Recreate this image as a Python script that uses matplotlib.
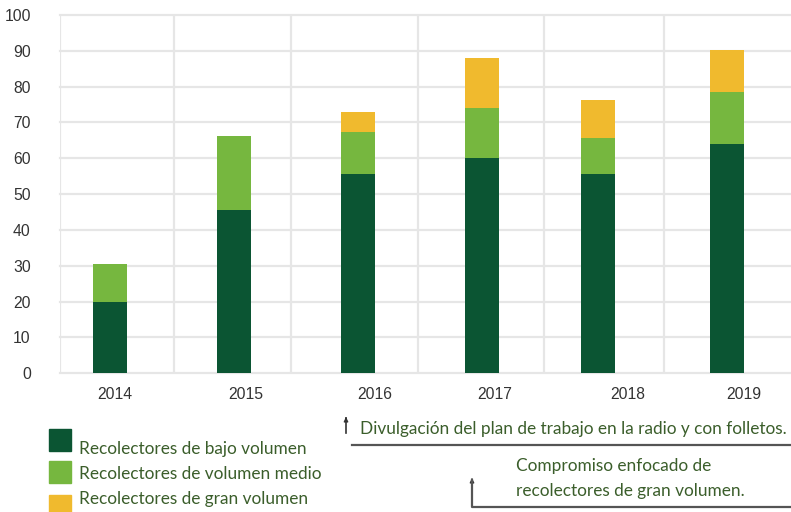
import matplotlib
matplotlib.use("Agg")
import matplotlib.pyplot as plt
from matplotlib.patches import Rectangle

# data
years = ["2014", "2015", "2016", "2017", "2018", "2019"]
bajo = [19.8, 45.5, 55.6, 60.0, 55.6, 64.0]
medio = [10.6, 20.7, 11.7, 14.0, 10.1, 14.5]
gran = [0.0, 0.0, 5.5, 14.0, 10.6, 11.7]
series_names = ["Recolectores de bajo volumen",
                "Recolectores de volumen medio",
                "Recolectores de gran volumen"]
note_1 = "Divulgación del plan de trabajo en la radio y con folletos."
note_2 = ["Compromiso enfocado de", "recolectores de gran volumen."]

# layout (index units)
bar_x = [0, 1.008, 2.016, 3.024, 3.967, 5.016]
label_x = [0.04, 1.10, 2.15, 3.13, 4.21, 5.15]
vgrid_x = [0.52, 1.47, 2.50, 3.53, 4.50]

c_bajo = "#0b5533"
c_medio = "#76b73f"
c_gran = "#f0ba2e"
c_grid = "#e6e6e6"
c_note = "#3b5e2b"

W, H = 791, 512
fig = plt.figure(figsize=(W / 100, H / 100), dpi=100)
ax = fig.add_axes([60 / W, (H - 373.3) / H, (W - 60) / W, (373.3 - 15) / H])

width = 0.27
ax.bar(bar_x, bajo, width, color=c_bajo, zorder=3)
ax.bar(bar_x, medio, width, bottom=bajo, color=c_medio, zorder=3)
bottom2 = [a + b for a, b in zip(bajo, medio)]
ax.bar(bar_x, gran, width, bottom=bottom2, color=c_gran, zorder=3)

ax.set_xlim(-0.407, (W - 110) / 123)
ax.set_ylim(0, 100)
ax.set_yticks(range(0, 101, 10))
ax.set_xticks(label_x)
ax.set_xticklabels(years)
for v in range(0, 101, 10):
    ax.axhline(v, color=c_grid, lw=1.6, zorder=1, clip_on=False)
for gx in [-0.407] + vgrid_x:
    ax.axvline(gx, color=c_grid, lw=1.6, zorder=1)

for s in ax.spines.values():
    s.set_visible(False)
ax.tick_params(axis="both", length=0, colors="#333333", labelsize=11.3)
ax.tick_params(axis="y", pad=21)
ax.tick_params(axis="x", pad=10)
for lbl in ax.get_xticklabels() + ax.get_yticklabels():
    lbl.set_fontfamily("Liberation Sans")

# legend
note_font = "Lato"
fs_note = 12.4
for i, (name, col) in enumerate(zip(series_names, [c_bajo, c_medio, c_gran])):
    y_top = [429, 461, 495][i]
    fig.patches.append(Rectangle((49 / W, 1 - (y_top + 22) / H), 22 / W, 22 / H,
                                 transform=fig.transFigure, color=col))
    yc = [449, 474, 499][i]
    fig.text(79 / W, 1 - yc / H, name, fontsize=fs_note, color=c_note,
             family=note_font, va="center", ha="left")

# annotations
fig.text(360 / W, 1 - 429 / H, note_1, fontsize=fs_note, color=c_note,
         family=note_font, va="center", ha="left")
fig.text(516 / W, 1 - 466 / H, note_2[0], fontsize=fs_note, color=c_note,
         family=note_font, va="center", ha="left")
fig.text(516 / W, 1 - 491 / H, note_2[1], fontsize=fs_note, color=c_note,
         family=note_font, va="center", ha="left")

line_col = "#555555"
fig.add_artist(plt.Line2D([352 / W, 1], [1 - 445 / H] * 2, color=line_col,
                          lw=1.6, transform=fig.transFigure))
fig.add_artist(plt.Line2D([472 / W, 472 / W, 1], [1 - 480 / H, 1 - 507 / H, 1 - 507 / H],
                          color=line_col, lw=1.6, transform=fig.transFigure))
fig.add_artist(plt.Line2D([346 / W, 346 / W], [1 - 418 / H, 1 - 433 / H],
                          color="#333333", lw=1.2, transform=fig.transFigure))
for xa, ya in [(346, 417), (472, 478)]:
    ax.annotate("", xy=(xa / W, 1 - ya / H), xytext=(xa / W, 1 - (ya + 5) / H),
                xycoords="figure fraction", textcoords="figure fraction",
                arrowprops=dict(arrowstyle="-|>", color="#333333", lw=1.0,
                                mutation_scale=6))

fig.savefig("out.png", dpi=100)
